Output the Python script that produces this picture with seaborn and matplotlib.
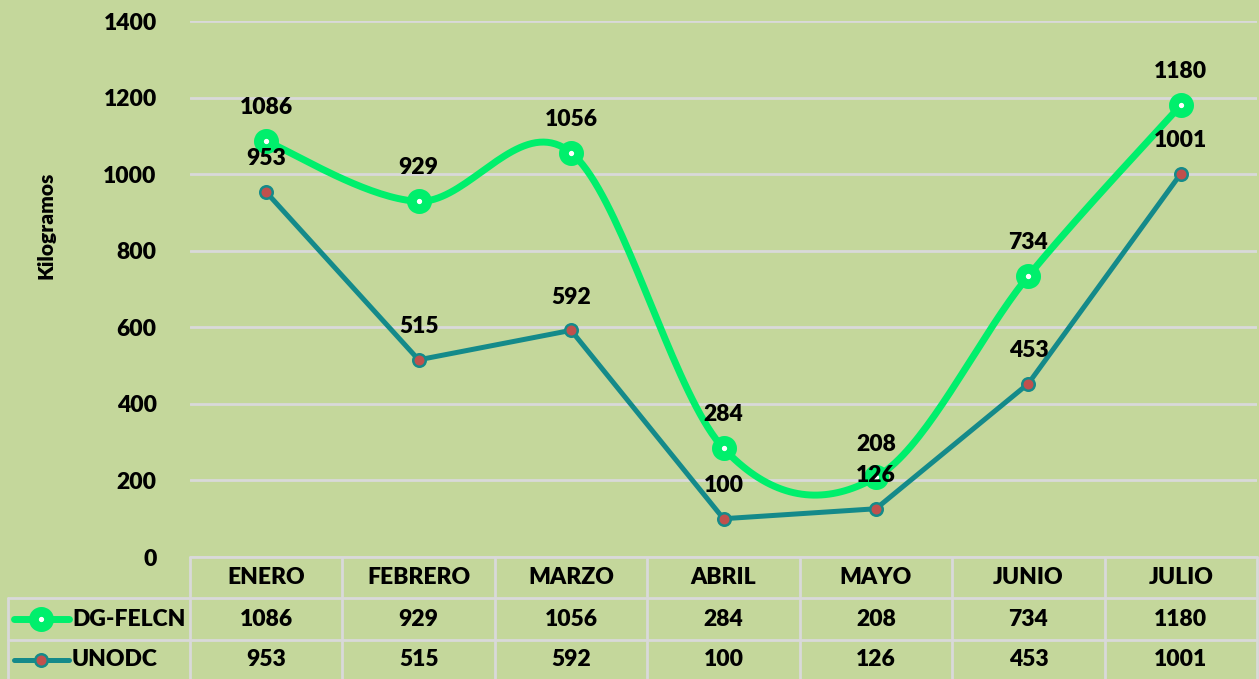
import numpy as np
import pandas as pd
import matplotlib
matplotlib.use("Agg")
import matplotlib.pyplot as plt
import seaborn as sns
from matplotlib.lines import Line2D

# datos
meses = ["ENERO", "FEBRERO", "MARZO", "ABRIL", "MAYO", "JUNIO", "JULIO"]
felcn = [1086, 929, 1056, 284, 208, 734, 1180]
unodc = [953, 515, 592, 100, 126, 453, 1001]
series_names = ["DG-FELCN", "UNODC"]

BG = "#c4d79b"
GRID = "#d9d9d9"
VERDE = "#00ef6c"
TEAL = "#148a8a"
ROJO = "#c0504d"
FW = "heavy"
FS = 16.5

sns.set_theme(style="white")
plt.rcParams["font.family"] = ["Lato", "DejaVu Sans"]
plt.rcParams["font.weight"] = "bold"
plt.rcParams["text.color"] = "black"
plt.rcParams["ytick.color"] = "black"
plt.rcParams["ytick.labelcolor"] = "black"

W, H = 1259, 679
fig = plt.figure(figsize=(W / 100, H / 100), dpi=100)
fig.patch.set_facecolor(BG)

x0, x1 = 190, 1257
y_top, y_zero = 21, 557
ax = fig.add_axes([x0 / W, 1 - y_zero / H, (x1 - x0) / W, (y_zero - y_top) / H])
ax.set_facecolor(BG)

x = np.arange(len(meses))
df = pd.DataFrame({"x": x, "DG-FELCN": felcn, "UNODC": unodc})


# curva suavizada tipo excel (catmull-rom)
def suavizar(xs, ys, n=40):
    px = np.concatenate([[xs[0]], xs, [xs[-1]]]).astype(float)
    py = np.concatenate([[ys[0]], ys, [ys[-1]]]).astype(float)
    outx, outy = [], []
    for i in range(1, len(px) - 2):
        p0, p1, p2, p3 = [np.array([px[j], py[j]]) for j in range(i - 1, i + 3)]
        c1 = p1 + (p2 - p0) / 6.0
        c2 = p2 - (p3 - p1) / 6.0
        t = np.linspace(0, 1, n)[:, None]
        b = (1 - t) ** 3 * p1 + 3 * (1 - t) ** 2 * t * c1 + 3 * (1 - t) * t ** 2 * c2 + t ** 3 * p2
        outx.extend(b[:, 0])
        outy.extend(b[:, 1])
    return np.array(outx), np.array(outy)


sx, sy = suavizar(x, np.array(felcn))
ax.plot(sx, sy, color=VERDE, lw=5, solid_capstyle="round", zorder=3)
sns.scatterplot(data=df, x="x", y="DG-FELCN", ax=ax, s=121, color="white",
                edgecolor=VERDE, linewidth=7, zorder=4, legend=False)

sns.lineplot(data=df, x="x", y="UNODC", ax=ax, color=TEAL, lw=3.6, zorder=5, legend=False)
sns.scatterplot(data=df, x="x", y="UNODC", ax=ax, s=81, color=ROJO,
                edgecolor=TEAL, linewidth=1.8, zorder=6, legend=False)

for xi, v in zip(x, felcn):
    ax.annotate(str(v), (xi, v), xytext=(0, 24), textcoords="offset points",
                ha="center", va="center", fontsize=FS, fontweight=FW, color="black", zorder=7)
for xi, v in zip(x, unodc):
    ax.annotate(str(v), (xi, v), xytext=(0, 24), textcoords="offset points",
                ha="center", va="center", fontsize=FS, fontweight=FW, color="black", zorder=7)

ax.set_xlim(-0.5, len(meses) - 0.5)
ax.set_ylim(0, 1400)
ax.set_yticks(range(0, 1401, 200))
ax.set_yticklabels([str(v) for v in range(0, 1401, 200)], fontsize=FS, fontweight=FW, color="black")
ax.tick_params(axis="y", length=0, pad=24)
ax.set_xticks([])
ax.set_xlabel("")
ax.set_ylabel("")
ax.grid(axis="y", color=GRID, lw=2)
ax.set_axisbelow(True)
for s in ax.spines.values():
    s.set_visible(False)

fig.text(46 / W, 1 - 225 / H, "Kilogramos", rotation=90, ha="center", va="center",
         fontsize=15, fontweight=FW, color="black")

# tabla de datos
tab = fig.add_axes([0, 0, 1, 1], facecolor="none")
tab.set_xlim(0, W)
tab.set_ylim(H, 0)
tab.axis("off")
col_w = (x1 - x0) / len(meses)
edges = [x0 + i * col_w for i in range(len(meses) + 1)]
r0, r1, r2, r3 = 557, 598, 640, 681
tab.add_line(Line2D([x0, x1], [r0, r0], color=GRID, lw=2))
for yy in (r1, r2):
    tab.add_line(Line2D([8, x1], [yy, yy], color=GRID, lw=2))
for e in edges:
    tab.add_line(Line2D([e, e], [r0, r3], color=GRID, lw=2))
tab.add_line(Line2D([8, 8], [r1, r3], color=GRID, lw=2))

for i, m in enumerate(meses):
    cx = (edges[i] + edges[i + 1]) / 2
    tab.text(cx, (r0 + r1) / 2, m, ha="center", va="center", fontsize=FS, fontweight=FW, color="black")
    tab.text(cx, (r1 + r2) / 2, str(felcn[i]), ha="center", va="center", fontsize=FS, fontweight=FW, color="black")
    tab.text(cx, (r2 + r3) / 2 - 1, str(unodc[i]), ha="center", va="center", fontsize=FS, fontweight=FW, color="black")

# claves de leyenda
ym1 = (r1 + r2) / 2
tab.add_line(Line2D([14, 69], [ym1, ym1], color=VERDE, lw=5, solid_capstyle="round"))
tab.add_line(Line2D([41], [ym1], marker="o", ms=11, mfc="white", mec=VERDE, mew=7))
ym2 = (r2 + r3) / 2 - 1
tab.add_line(Line2D([14, 69], [ym2, ym2], color=TEAL, lw=3.6, solid_capstyle="round"))
tab.add_line(Line2D([41], [ym2], marker="o", ms=9, mfc=ROJO, mec=TEAL, mew=1.8))
tab.text(72, ym1, series_names[0], ha="left", va="center", fontsize=FS, fontweight=FW, color="black")
tab.text(72, ym2, series_names[1], ha="left", va="center", fontsize=FS, fontweight=FW, color="black")

fig.savefig("out.png", dpi=100, facecolor=BG)
